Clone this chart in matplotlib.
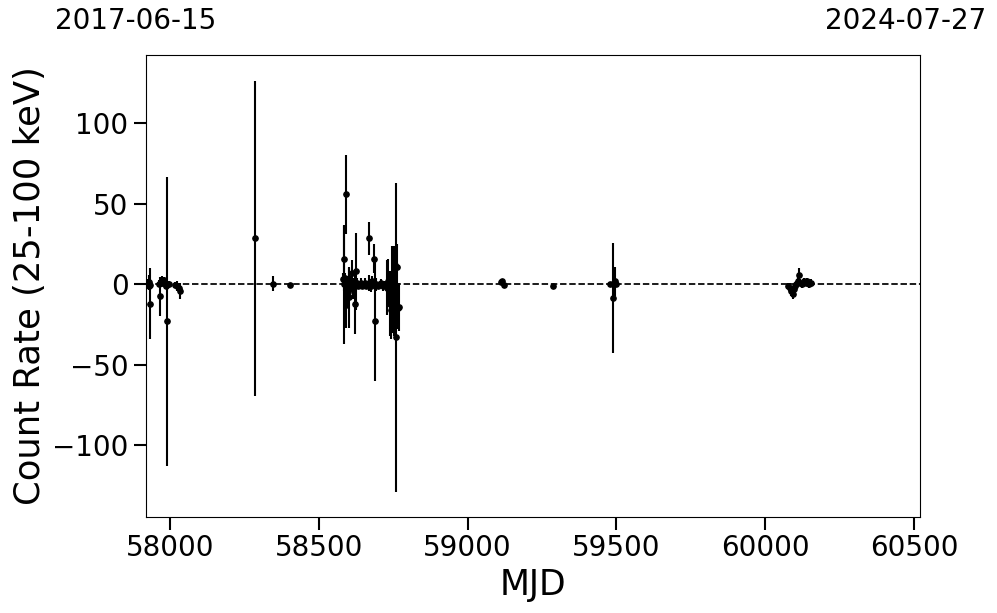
import numpy as np
import matplotlib
matplotlib.use("Agg")
import matplotlib.pyplot as plt

# light curve points (MJD, count rate, 1-sigma error)
mjd_early = [57927, 57929, 57930, 57931, 57932,
             57962, 57966, 57968, 57972, 57975, 57979, 57983, 57986, 57991, 57995,
             58018, 58024, 58030, 58035]
rate_early = [0.5, -1.0, 1.5, -12.0, -0.5,
              0.5, -7.5, 1.0, 2.0, 1.0, 2.5, 0.0, -1.0, -23.0, 0.0,
              -0.5, -1.0, -2.0, -4.0]
err_early = [3, 2.5, 4, 22, 2,
             2, 12, 2, 3, 2, 2, 3, 2, 90, 2,
             2, 3, 3, 5]

mjd_2018 = [58286, 58345, 58403]
rate_2018 = [28.5, 0.5, -0.5]
err_2018 = [98, 4.5, 1.5]

mjd_2019 = [58582, 58585, 58586, 58588, 58590, 58591, 58593, 58596, 58598, 58600,
            58603, 58606, 58609, 58612, 58615, 58618, 58622, 58624, 58627, 58630,
            58635, 58640, 58645, 58650, 58655, 58660, 58668, 58670, 58674, 58678,
            58684, 58688, 58692, 58698, 58704, 58710, 58716, 58722, 58728, 58733,
            58738, 58742, 58745, 58748, 58751, 58754, 58757, 58760, 58763, 58766,
            58770]
rate_2019 = [3, 16, 0, 4, -13, 56, -2, 1, -5, 2,
             -8, 0, -1, 7, -3, 0, -12, 8, 1, -1,
             0, 1, -1, 0, 1, -1, 28.5, 1, -1, 2,
             16, -23, 0, -1, 0, 1, -1, 0, -2, 2,
             -12, -16, 4, -5, 8, -10, 12, -33, 11, -15,
             -14]
err_2019 = [4, 20, 37, 3, 14, 24.5, 6, 4, 10, 8,
            19, 5, 3, 8, 6, 4, 19, 24, 3, 2,
            2, 3, 2, 2, 3, 2, 10, 5, 4, 3,
            9, 37, 4, 2, 2, 2, 3, 2, 17, 14,
            20, 18, 20, 25, 16, 22, 12, 96, 14, 13,
            15]

mjd_late = [59111, 59115, 59122, 59288, 59478, 59487, 59491, 59495, 59499,
            60078, 60083, 60088, 60092, 60096, 60100, 60105, 60110, 60114, 60118,
            60124, 60130, 60136, 60142, 60148, 60154]
rate_late = [1.5, 2.0, -0.5, -1.0, 0.0, -8.5, 1.0, 2.0, 0.5,
             -1, -2, -4, -6, -3, -1, 0, 2, 6, 1,
             0, 2, 1, 2, 0, 1]
err_late = [1.5, 1.0, 1.5, 1.5, 1.5, 34, 2, 9, 2,
            2, 3, 3, 3, 3, 2, 2, 3, 4, 2,
            2, 2, 2, 2, 2, 2]

start_label = "2017-06-15"
end_label = "2024-07-27"

mjd = np.array(mjd_early + mjd_2018 + mjd_2019 + mjd_late)
rate = np.array(rate_early + rate_2018 + rate_2019 + rate_late)
err = np.array(err_early + err_2018 + err_2019 + err_late)

fig = plt.figure(figsize=(9.97, 6.13), dpi=100)
ax = fig.add_axes([0.1464, 0.1566, 0.7766, 0.7537])

ax.errorbar(mjd, rate, yerr=err, fmt='o', color='k', ecolor='k',
            ms=3.8, elinewidth=1.5, capsize=0)
ax.axhline(0, color='k', ls='--', lw=1.25)

ax.set_xlim(57919, 60521)
ax.set_ylim(-144.7, 142.6)
ax.set_xticks([58000, 58500, 59000, 59500, 60000, 60500])
ax.set_yticks([-100, -50, 0, 50, 100])
ax.tick_params(axis='both', labelsize=20, length=9, width=1.5)

ax.set_xlabel('MJD', fontsize=25)
ax.set_ylabel('Count Rate (25-100 keV)', fontsize=25.5)

fig.text(136 / 997, 1 - 7 / 613, start_label, fontsize=20, ha='center', va='top')
fig.text(906 / 997, 1 - 7 / 613, end_label, fontsize=20, ha='center', va='top')

fig.savefig("out.png", dpi=100)
